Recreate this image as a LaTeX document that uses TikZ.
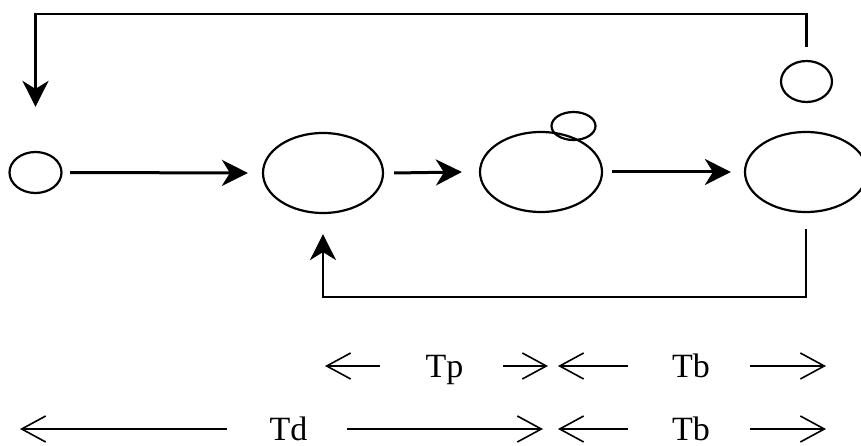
\documentclass[tikz,border=0pt]{standalone}
\usepackage{fontspec}
\setmainfont{Liberation Serif}
\usetikzlibrary{arrows.meta,shapes.geometric}
\begin{document}
\begin{tikzpicture}[x=1pt,y=-1pt,
  cell/.style={ellipse,draw,line width=2.2pt,inner sep=0pt},
  bigtip/.style={-{Stealth[length=26pt,width=26pt,inset=8pt]}},
  flow/.style={line width=3pt,bigtip},
  loopline/.style={line width=2.7pt},
  dimarrow/.style={line width=1.6pt,-{Straight Barb[length=24pt,width=26pt]}},
  lbl/.style={font=\fontsize{34}{38}\selectfont,inner sep=0pt,anchor=base}]
\useasboundingbox (0,0) rectangle (861,446);

% stages of the cycle
\node[cell,minimum width=52pt,minimum height=41pt]  (s0)  at (35.5,172.5) {};
\node[cell,minimum width=120pt,minimum height=80pt] (e1)  at (323,173) {};
\node[cell,minimum width=122pt,minimum height=80pt] (e2)  at (541,172) {};
\node[cell,minimum width=44pt,minimum height=28pt]  (bub) at (573.5,126) {};
\node[cell,minimum width=122pt,minimum height=80pt] (e3)  at (806,172) {};
\node[cell,minimum width=51pt,minimum height=41pt]  (s3)  at (806.5,81.5) {};

% forward flow
\draw[flow] ([xshift=7.5pt]s0.east) -- ([xshift=-14pt]e1.west);
\draw[flow] ([xshift=10pt]e1.east)  -- ([xshift=-17pt]e2.west);
\draw[flow] ([xshift=9pt]e2.east)   -- ([xshift=-13pt]e3.west);

% feedback loops
\coordinate (toprail) at (0,14);
\coordinate (botrail) at (0,297);
\draw[loopline,bigtip] ([yshift=13pt]s3.north) -- (s3.north |- toprail)
  -| ([yshift=44pt]s0.north);
\draw[loopline,bigtip] ([yshift=-16pt]e3.south) -- (e3.south |- botrail)
  -| ([yshift=-20pt]e1.south);

% time intervals
\node[lbl] (tp)  at (444.5,377) {Tp};
\node[lbl] (tb1) at (691,377)   {Tb};
\node[lbl] (td)  at (288.5,440) {Td};
\node[lbl] (tb2) at (691,440)   {Tb};

\coordinate (r1a) at (380,366); \coordinate (r1b) at (325,366);
\coordinate (r1c) at (503,366); \coordinate (r1d) at (548,366);
\coordinate (r1e) at (628,366); \coordinate (r1f) at (558,366);
\coordinate (r1g) at (750,366); \coordinate (r1h) at (826,366);
\coordinate (r2a) at (227,429); \coordinate (r2b) at (20,429);
\coordinate (r2c) at (347,429); \coordinate (r2d) at (543,429);
\coordinate (r2e) at (628,429); \coordinate (r2f) at (558,429);
\coordinate (r2g) at (750,429); \coordinate (r2h) at (826,429);

\draw[dimarrow] (r1a) -- (r1b);
\draw[dimarrow] (r1c) -- (r1d);
\draw[dimarrow] (r1e) -- (r1f);
\draw[dimarrow] (r1g) -- (r1h);
\draw[dimarrow] (r2a) -- (r2b);
\draw[dimarrow] (r2c) -- (r2d);
\draw[dimarrow] (r2e) -- (r2f);
\draw[dimarrow] (r2g) -- (r2h);
\end{tikzpicture}
\end{document}
